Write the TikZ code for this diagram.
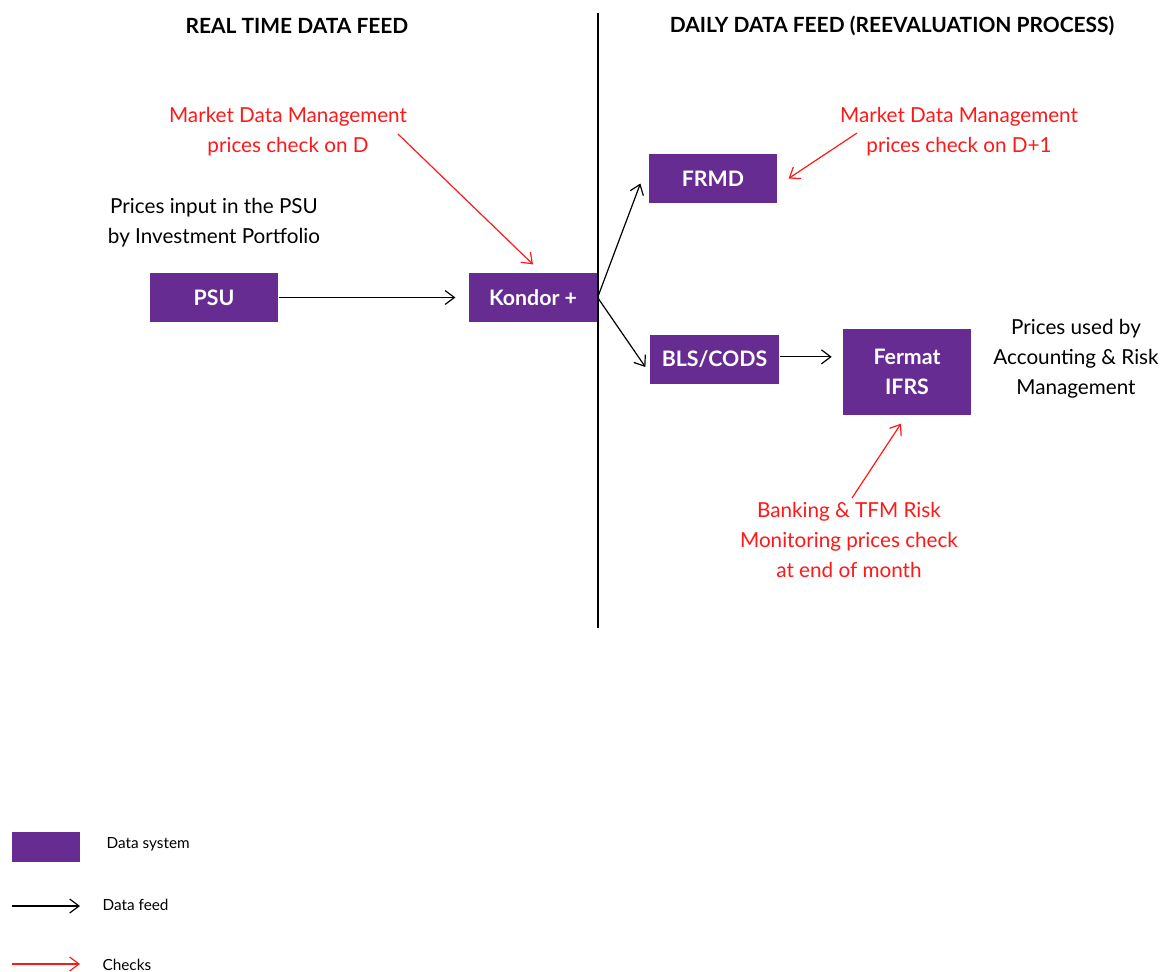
\documentclass[tikz,border=0pt]{standalone}
\usepackage{fontspec}
\setmainfont{Lato}
\usetikzlibrary{arrows.meta}

\definecolor{sysviolet}{RGB}{102,44,145}
\definecolor{checkred}{RGB}{255,24,24}

\tikzset{every picture/.style={line width=0.9pt}}
\tikzset{
  sysbox/.style={fill=sysviolet, draw=none, text=white, inner sep=0pt,
    minimum width=96pt, minimum height=36.75pt, align=center,
    font=\fontsize{16}{23}\selectfont\bfseries},
  feed/.style={-{Straight Barb[length=7pt,width=10.5pt]}, black},
  check/.style={-{Straight Barb[length=7pt,width=10.5pt]}, checkred},
  note/.style={inner sep=0.75pt, align=center, font=\fontsize{15.5}{22.5}\selectfont},
  heading/.style={inner sep=0.75pt, font=\fontsize{15.7}{19}\selectfont\bfseries},
  keytext/.style={inner sep=0.75pt, anchor=west, font=\fontsize{11.5}{14}\selectfont}
}

\begin{document}
\begin{tikzpicture}[x=0.75pt,y=0.75pt,yscale=-1,xscale=1]
	\useasboundingbox (0,0) rectangle (1165,972);
	
	%Straight Lines (separator)
	\coordinate (sepTop) at (598,13);
	\coordinate (sepBot) at (598,628);
	\draw    (sepTop) -- (sepBot) ;
	
	% Text Node
	\node [heading] (realTitle) at (297,26) {REAL TIME DATA FEED};
	% Text Node
	\node [heading] (dailyTitle) at (892,26) {DAILY DATA FEED (REEVALUATION PROCESS)};
	
	%Shape: Rectangle
	\node [sysbox] (psu) at (214,297.5) {PSU};
	%Shape: Rectangle
	\node [sysbox] (kondor) at (533,297.5) {Kondor +};
	%Shape: Rectangle
	\node [sysbox] (frmd) at (713,178.5) {FRMD};
	%Shape: Rectangle
	\node [sysbox, minimum width=96.75pt] (bls) at (714.5,359.5) {BLS/CODS};
	%Shape: Rectangle
	\node [sysbox, minimum height=64.5pt] (fermat) at (907,372) {Fermat\\IFRS};
	
	% Text Node
	\node [note] (psuNote) at (214,223) {Prices input in the PSU\\by Investment Portfolio};
	% Text Node
	\node [note] (usedNote) at (1076,358.5) {Prices used by\\Accounting \& Risk\\Management};
	% Text Node
	\node [note, text=checkred] (checkD) at (288,131.5) {Market Data Management\\prices check on D};
	% Text Node
	\node [note, text=checkred] (checkD1) at (959,131.5) {Market Data Management\\prices check on D+1};
	% Text Node
	\node [note, text=checkred] (checkMonth) at (849,540) {Banking \& TFM Risk\\Monitoring prices check\\at end of month};
	
	%Straight Lines (data feed)
	\draw [feed, shorten >=9.75pt]    (psu.east) -- (kondor.west) ;
	\draw [feed]    (kondor.east) -- ([shift={(-8,5)}]frmd.west) ;
	\draw [feed]    (kondor.east) -- ([shift={(-4,7.5)}]bls.west) ;
	\draw [feed, shorten >=8pt]    ([yshift=-2pt]bls.east) -- ([yshift=-2pt]bls.east -| fermat.west) ;
	
	%Straight Lines (checks)
	\coordinate (fromD) at (398,134);
	\coordinate (fromD1) at (857,133);
	\coordinate (fromMonth) at (852,498);
	\draw [check]    (fromD) -- ([shift={(0,-8)}]kondor.north) ;
	\draw [check]    (fromD1) -- ([shift={(11,0)}]frmd.east) ;
	\draw [check]    (fromMonth) -- ([shift={(-6,8)}]fermat.south) ;
	
	%Legend
	\node [sysbox, minimum width=51pt, minimum height=22.5pt] (keyBox) at (46,847) {};
	\node [keytext] (keyBoxText) at (105,844) {Data system};
	\coordinate (keyFeedA) at (12,906);
	\coordinate (keyFeedB) at (80,906);
	\draw [feed]    (keyFeedA) -- (keyFeedB) ;
	\node [keytext] (keyFeedText) at (101,905) {Data feed};
	\coordinate (keyCheckA) at (12,964);
	\coordinate (keyCheckB) at (80,964);
	\draw [check]    (keyCheckA) -- (keyCheckB) ;
	\node [keytext] (keyCheckText) at (101,965) {Checks};
	
\end{tikzpicture}
\end{document}
